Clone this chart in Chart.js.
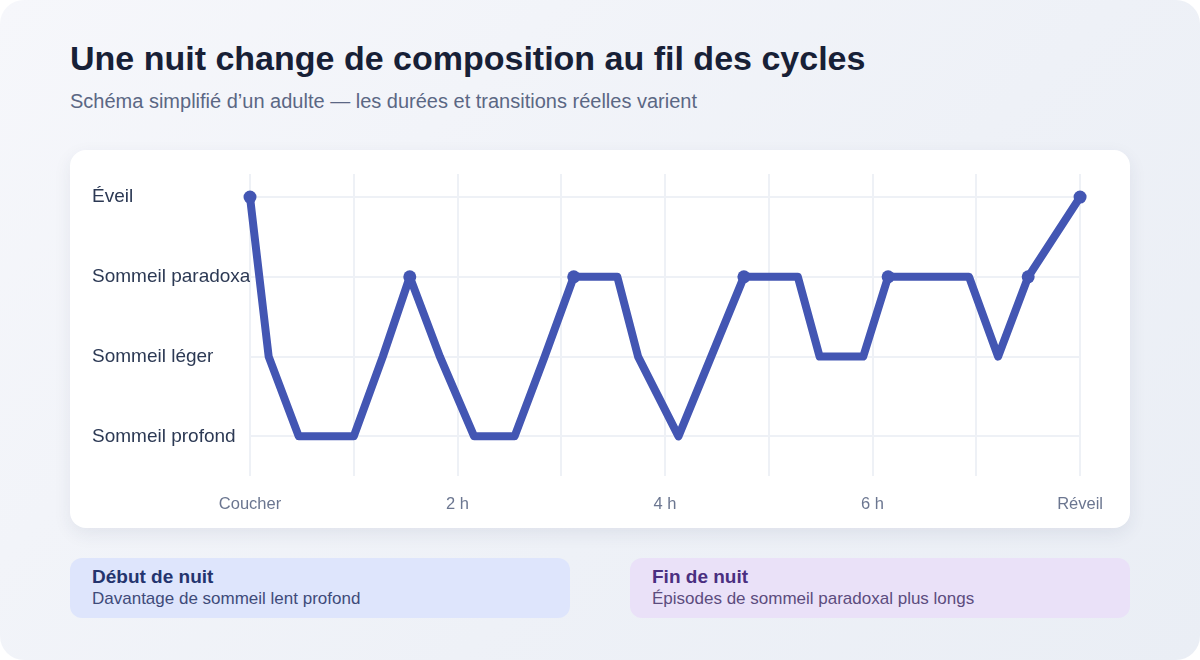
<!DOCTYPE html>
<html lang="fr">
<head>
<meta charset="utf-8">
<script src="https://cdn.jsdelivr.net/npm/chart.js@4/dist/chart.umd.min.js"></script>
<style>
  html, body { margin: 0; padding: 0; background: #ffffff; }
  body { width: 1200px; height: 660px; overflow: hidden; font-family: 'Liberation Sans', Arial, sans-serif; }
  .frame {
    position: relative; width: 1200px; height: 660px; border-radius: 24px;
    background: linear-gradient(135deg, #f6f7fb 0%, #eef1f7 60%, #eaeef5 100%);
  }
  h1 {
    position: absolute; left: 70px; top: 38px; margin: 0;
    font-size: 34px; line-height: 40px; font-weight: 700; color: #172036;
  }
  .sub {
    position: absolute; left: 70px; top: 89px; margin: 0;
    font-size: 20px; line-height: 24px; color: #5b6784;
  }
  .card {
    position: absolute; left: 70px; top: 150px; width: 1060px; height: 378px;
    background: #ffffff; border-radius: 16px;
    box-shadow: 0 6px 18px rgba(40, 55, 90, 0.08);
  }
  .card canvas { position: absolute; left: 22px; top: 0; }
  .note {
    position: absolute; top: 558px; width: 500px; height: 60px; border-radius: 12px;
    box-sizing: border-box; padding: 8px 22px 0 22px;
  }
  .note b { display: block; font-size: 19px; line-height: 22px; }
  .note span { display: block; font-size: 17px; line-height: 20px; margin-top: 1px; }
  .early { left: 70px; background: #dee5fc; }
  .early b { color: #24346e; }
  .early span { color: #3e4b7a; }
  .late { left: 630px; background: #eae1f8; }
  .late b { color: #4a2f80; }
  .late span { color: #5c4c7e; }
</style>
</head>
<body>
<div class="frame">
  <h1>Une nuit change de composition au fil des cycles</h1>
  <p class="sub">Schéma simplifié d’un adulte — les durées et transitions réelles varient</p>
  <div class="card">
    <canvas id="hypnogram" width="1029" height="397" style="width:1029px;height:397px"></canvas>
  </div>
  <div class="note early"><b>Début de nuit</b><span>Davantage de sommeil lent profond</span></div>
  <div class="note late"><b>Fin de nuit</b><span>Épisodes de sommeil paradoxal plus longs</span></div>
</div>
<script>
// Stages, bottom to top
const stageLabels = ['Sommeil profond', 'Sommeil léger', 'Sommeil paradoxal', 'Éveil'];

// Time since going to bed (hours) and stage index at each transition
const hours = [0, 0.18, 0.47, 1.0, 1.28, 1.54, 1.83, 2.16, 2.55, 2.84, 3.12, 3.54, 3.74, 4.13, 4.76, 5.28, 5.49, 5.91, 6.15, 6.93, 7.21, 7.5, 8];
const stages = [3, 1, 0, 0, 1, 2, 1, 0, 0, 1, 2, 2, 1, 0, 2, 2, 1, 1, 2, 2, 1, 2, 3];

// Points marked on the curve (start, each REM onset, wake-up)
const markedHours = [0, 1.54, 3.12, 4.76, 6.15, 7.5, 8];

// X axis labels
const tickHours = [0, 2, 4, 6, 8];
const tickLabels = ['Coucher', '2 h', '4 h', '6 h', 'Réveil'];

const lineColor = '#4356b3';
const fontFamily = "'Liberation Sans', Arial, sans-serif";
const points = hours.map((h, i) => ({ x: h, y: stages[i] }));
const radii = hours.map(h => markedHours.includes(h) ? 6.5 : 0);

const ctx = document.getElementById('hypnogram').getContext('2d');
new Chart(ctx, {
  type: 'line',
  data: {
    datasets: [{
      data: points,
      borderColor: lineColor,
      backgroundColor: lineColor,
      borderWidth: 8,
      borderJoinStyle: 'round',
      borderCapStyle: 'round',
      tension: 0,
      pointRadius: radii,
      pointBackgroundColor: lineColor,
      pointBorderWidth: 0,
      pointHoverRadius: radii
    }]
  },
  options: {
    responsive: false,
    animation: false,
    clip: false,
    layout: { padding: { top: 24, right: 17, bottom: 15, left: 0 } },
    plugins: {
      legend: { display: false },
      tooltip: { enabled: false }
    },
    scales: {
      x: {
        type: 'linear',
        min: 0,
        max: 8,
        grid: { color: '#eef1f6', lineWidth: 2, drawTicks: false },
        border: { display: false },
        ticks: {
          stepSize: 1,
          padding: 18,
          maxRotation: 0,
          color: '#6b7690',
          font: { family: fontFamily, size: 16.5 },
          callback: function(value) {
            const i = tickHours.indexOf(value);
            return i >= 0 ? tickLabels[i] : '';
          }
        }
      },
      y: {
        type: 'linear',
        min: -0.5,
        max: 3.29,
        afterBuildTicks: function(axis) {
          axis.ticks = stageLabels.map((_, i) => ({ value: i }));
        },
        afterFit: function(axis) {
          axis.width = 158;
        },
        grid: { color: '#eef1f6', lineWidth: 2, drawTicks: false },
        border: { display: false },
        ticks: {
          crossAlign: 'far',
          padding: 0,
          color: '#2c3954',
          font: { family: fontFamily, size: 19 },
          callback: function(value) {
            return stageLabels[value] || '';
          }
        }
      }
    }
  }
});
</script>
</body>
</html>
